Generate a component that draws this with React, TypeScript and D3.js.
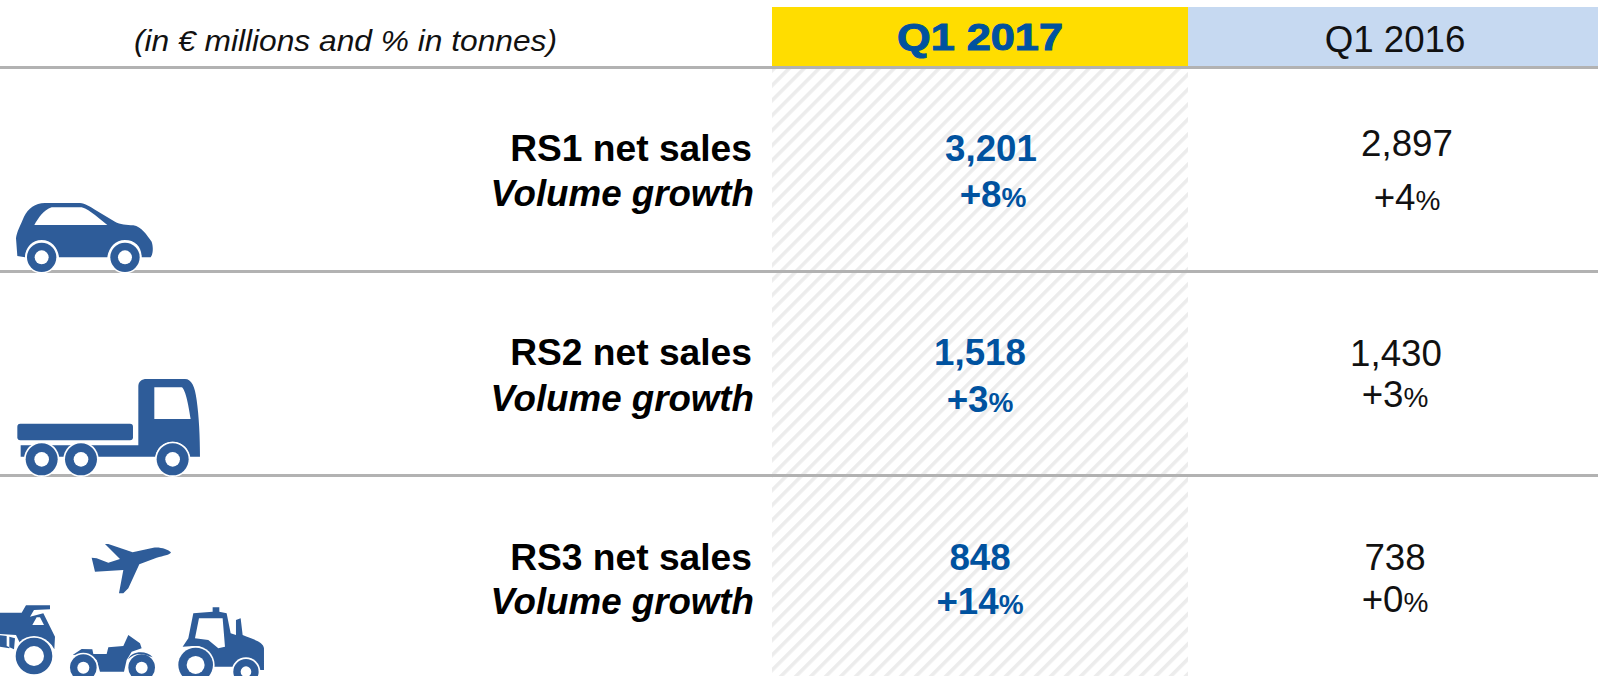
import React from "react";
import * as d3 from "d3";

const categories = ["RS1 net sales", "RS2 net sales", "RS3 net sales"];
const subLabel = "Volume growth";
const unitNote = "(in € millions and % in tonnes)";
const periods = ["Q1 2017", "Q1 2016"];
const sales2017 = [3201, 1518, 848];
const sales2016 = [2897, 1430, 738];
const growth2017 = [8, 3, 14];
const growth2016 = [4, 3, 0];

// small hand placed offsets, the source slide is not quite aligned
const labelNudge = [0, -1, -1];
const subNudge = [45, 45, 43];
const salesNudge2017 = [{ x: 11, y: 0 }, { x: 0, y: -1 }, { x: 0, y: -1 }];
const growthNudge2017 = [{ x: 13, y: 46 }, { x: 0, y: 46 }, { x: 0, y: 43 }];
const salesNudge2016 = [{ x: 12, y: -5 }, { x: 1, y: 0 }, { x: 0, y: -1 }];
const growthNudge2016 = [{ x: 12, y: 49 }, { x: 0, y: 41 }, { x: 0, y: 41 }];

const WIDTH = 1598;
const HEIGHT = 676;
const BLUE = "#00529f";
const ICON = "#2e5c99";
const fmt = d3.format(",");

const rowY = d3.scalePoint<string>().domain(categories).range([161, 571]);
const ruleY = d3.scalePoint<string>().domain(["head", ...categories.slice(0, 2)]).range([67.5, 475.5]);
const colX = d3.scaleBand<string>().domain(periods).range([772, 1598]).paddingInner(0);
const col2017 = 980;
const col2016 = 1395;

// icon outlines, traced at 3x
const CAR = "M48 175C50 155 62 135 72 110C85 85 105 70 135 69L240 69C255 70 270 80 290 92L345 125C360 134 380 134 400 136C425 140 440 165 455 185C460 200 460 222 452 232L425 232C425 200 405 180 375 180C345 180 325 205 322 232L177 232C175 205 155 180 125 180C95 180 75 205 75 232L52 228ZM103 135L285 135L322 135L285 105C270 95 260 85 245 82L155 82C130 90 115 115 103 135Z";
const TRUCK = "M415 80C415 65 425 57 440 57L555 57C575 57 585 80 590 120C597 170 600 230 600 290L570 290C565 265 545 245 518 245C490 245 470 265 467 290L296 290L62 290L62 256L415 256ZM463 82L463 177L572 177C565 130 555 85 545 82Z";
const PLANE = "M315 72L325 72L398 97L460 83C480 80 505 88 513 97C510 105 490 108 470 113L418 133L385 205L370 220L357 220L370 150L285 155L275 113L290 115L325 128L360 117Z";
const DUMPER = "M0 278L65 278L78 256L150 256L150 268L102 270L90 290L130 280L165 350L163 388L155 375C130 345 85 345 60 370L48 345L0 342Z M97 315L132 315L120 292L110 292Z";
const DUMPER_REAR = "M0 346L20 348L20 378L42 388L45 355L28 350L28 385L0 380Z";
const BIKE = "M218 405L245 387L277 388L280 402L320 402L325 382L370 378L385 345L420 370L425 385L395 395L380 420L372 455L300 455L290 420L260 402Z";
const BIKE_FENDER = "M384 418C395 392 440 390 458 412L440 406C420 398 400 402 384 418Z";
const TRACTOR = "M580 280L638 275L638 262L658 262L658 275L680 280L692 340L708 345L708 300L722 295L728 345C760 358 790 365 792 385L792 450L775 450C770 425 750 410 735 415C710 420 705 430 700 440L640 440C640 400 610 375 580 378L548 380L565 355ZM597 295L585 355L625 360L655 385L675 380L668 295Z";

const carWheels = [[125, 232, 44, 21], [375, 232, 44, 21]];
const truckWheels = [[125, 298, 48, 22], [243, 298, 48, 22], [518, 298, 48, 22]];
const fleetWheels = [
  [102, 408, 55, 30],
  [250, 443, 40, 18],
  [425, 443, 40, 18],
  [587, 435, 52, 27],
  [738, 455, 38, 16],
];

const Wheels = ({ items }: { items: number[][] }) => (
  <>
    {items.map(([cx, cy, r, hole], i) => (
      <g key={i}>
        <circle cx={cx} cy={cy} r={r + 5} fill="#fff" />
        <circle cx={cx} cy={cy} r={r} fill={ICON} />
        <circle cx={cx} cy={cy} r={hole} fill="#fff" />
      </g>
    ))}
  </>
);

const Pct = ({ v }: { v: number }) => (
  <>
    +{v}
    <tspan fontSize={28}>%</tspan>
  </>
);

export default function App() {
  return (
    <svg
      width={WIDTH}
      height={HEIGHT}
      viewBox={`0 0 ${WIDTH} ${HEIGHT}`}
      style={{ position: "absolute", left: 0, top: 0, background: "#fff" }}
      fontFamily="'Liberation Sans', Arial, sans-serif"
    >
      <defs>
        <pattern id="hatch" width={10.6} height={10.6} patternUnits="userSpaceOnUse" patternTransform="translate(772 68) rotate(45)">
          <rect width={3.6} height={10.6} fill="#ececec" />
        </pattern>
      </defs>

      <rect x={772} y={68} width={416} height={608} fill="url(#hatch)" />
      <rect x={772} y={7} width={416} height={60} fill="#ffdd00" />
      <rect x={1188} y={7} width={410} height={60} fill="#c6d9f1" />

      {ruleY.domain().map(k => (
        <line key={k} x1={0} x2={WIDTH} y1={ruleY(k)} y2={ruleY(k)} stroke="#b2b2b2" strokeWidth={3} />
      ))}

      <text x={557} y={51} textAnchor="end" fontSize={29.5} fontStyle="italic" fill="#111" textLength={423} lengthAdjust="spacingAndGlyphs">{unitNote}</text>
      <text
        x={colX(periods[0])! + 125}
        y={50}
        fontSize={37}
        fontWeight="bold"
        fill={BLUE}
        stroke={BLUE}
        strokeWidth={1}
        textLength={166}
        lengthAdjust="spacingAndGlyphs"
      >
        {periods[0]}
      </text>
      <text x={col2016} y={52} textAnchor="middle" fontSize={36.7} fill="#111">{periods[1]}</text>

      {categories.map((c, i) => {
        const y = rowY(c)!;
        return (
          <g key={c} fontSize={36.7}>
            <text x={752} y={y + labelNudge[i]} textAnchor="end" fontSize={37.2} fontWeight="bold" fill="#000">{c}</text>
            <text x={754} y={y + subNudge[i]} textAnchor="end" fontWeight="bold" fontStyle="italic" fill="#000">{subLabel}</text>
            <g textAnchor="middle" fontWeight="bold" fill={BLUE}>
              <text x={col2017 + salesNudge2017[i].x} y={y + salesNudge2017[i].y}>{fmt(sales2017[i])}</text>
              <text x={col2017 + growthNudge2017[i].x} y={y + growthNudge2017[i].y}><Pct v={growth2017[i]} /></text>
            </g>
            <g textAnchor="middle" fill="#111">
              <text x={col2016 + salesNudge2016[i].x} y={y + salesNudge2016[i].y}>{fmt(sales2016[i])}</text>
              <text x={col2016 + growthNudge2016[i].x} y={y + growthNudge2016[i].y}><Pct v={growth2016[i]} /></text>
            </g>
          </g>
        );
      })}

      <g transform="translate(0 180) scale(0.3333)" fill={ICON}>
        <path d={CAR} fillRule="evenodd" />
        <Wheels items={carWheels} />
      </g>
      <g transform="translate(0 360) scale(0.3333)" fill={ICON}>
        <path d={TRUCK} fillRule="evenodd" />
        <rect x={52} y={191} width={347} height={50} rx={9} />
        <Wheels items={truckWheels} />
      </g>
      <g transform="translate(0 520) scale(0.3333)" fill={ICON}>
        <path d={PLANE} />
        <path d={DUMPER} fillRule="evenodd" />
        <path d={DUMPER_REAR} />
        <path d={BIKE} />
        <Wheels items={fleetWheels} />
        <path d={BIKE_FENDER} />
        <path d={TRACTOR} fillRule="evenodd" />
        <Wheels items={fleetWheels.slice(3)} />
      </g>
    </svg>
  );
}
